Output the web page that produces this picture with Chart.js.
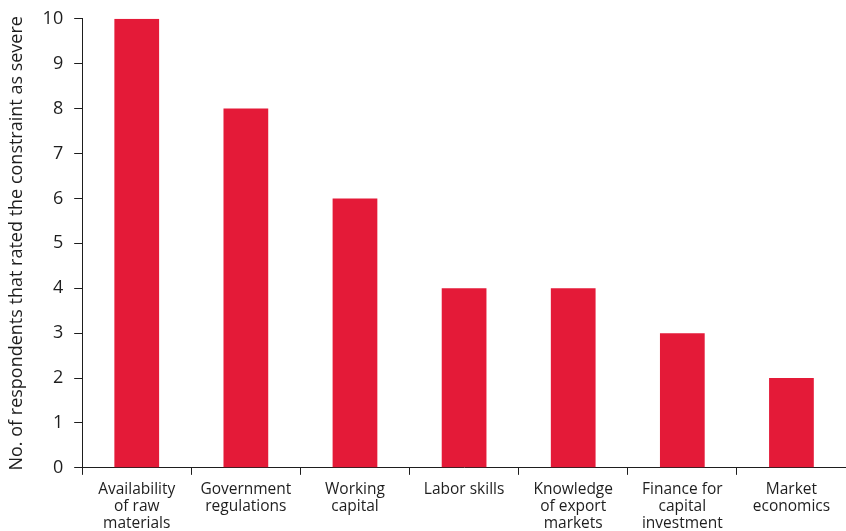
<!DOCTYPE html>
<html>
<head>
<meta charset="utf-8">
<script src="https://cdn.jsdelivr.net/npm/chart.js@4/dist/chart.umd.min.js"></script>
<style>
  html, body { margin: 0; padding: 0; background: #fff; overflow: hidden; }
  #wrap { width: 846px; height: 541px; margin-top: -3px; }
</style>
</head>
<body>
<div id="wrap"><canvas id="constraints"></canvas></div>
<script>
const categories = [
  ['Availability', 'of raw', 'materials'],
  ['Government', 'regulations'],
  ['Working', 'capital'],
  ['Labor skills'],
  ['Knowledge', 'of export', 'markets'],
  ['Finance for', 'capital', 'investment'],
  ['Market', 'economics']
];
const severeCounts = [10, 8, 6, 4, 4, 3, 2];
const yTicks = [0, 1, 2, 3, 4, 5, 6, 7, 8, 9, 10];

const red = '#E41A38';
const ink = '#1e1e1e';
const fontFamily = '"Open Sans", "Noto Sans", sans-serif';

const constraintsConfig = {
  type: 'bar',
  data: {
    labels: categories,
    datasets: [{
      label: 'severe',
      data: severeCounts,
      backgroundColor: red,
      borderWidth: 0,
      categoryPercentage: 1,
      barPercentage: 0.41
    }]
  },
  options: {
    responsive: true,
    maintainAspectRatio: false,
    animation: false,
    layout: { padding: { top: 7, right: 0, left: 6, bottom: 0 } },
    scales: {
      x: {
        grid: {
          offset: true,
          drawOnChartArea: false,
          drawTicks: true,
          tickLength: 7,
          color: ink
        },
        border: { display: true, color: ink, width: 1 },
        ticks: {
          color: ink,
          padding: 6,
          maxRotation: 0,
          autoSkip: false,
          font: { family: fontFamily, size: 15.5, lineHeight: 1.1 }
        }
      },
      y: {
        min: 0,
        max: 10,
        afterBuildTicks: function(axis){
          axis.ticks = yTicks.map(v => ({ value: v }));
        },
        grid: {
          drawOnChartArea: false,
          drawTicks: true,
          tickLength: 8,
          color: ink
        },
        border: { display: true, color: ink, width: 1 },
        ticks: {
          color: ink,
          padding: 11,
          font: { family: fontFamily, size: 18 }
        },
        title: {
          display: true,
          text: 'No. of respondents that rated the constraint as severe',
          color: ink,
          padding: { top: 0, bottom: 4 },
          font: { family: fontFamily, size: 18 }
        }
      }
    },
    plugins: {
      legend: { display: false },
      tooltip: { enabled: false }
    }
  }
};

new Chart('constraints', constraintsConfig);
</script>
</body>
</html>
